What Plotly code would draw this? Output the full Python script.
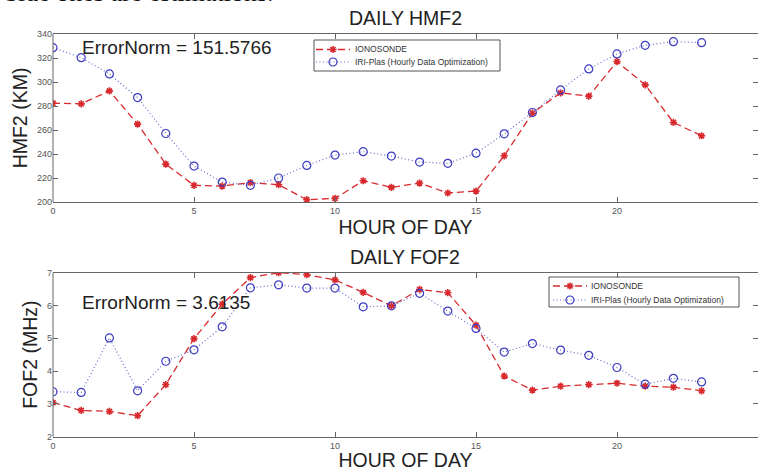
import plotly.graph_objects as go

hours = list(range(24))
hmf2_iono = [282.3, 281.8, 292.6, 264.9, 231.6, 213.9, 213.3, 216.1, 214.4, 201.9, 203.0, 217.7,
             212.2, 215.8, 207.5, 209.1, 238.5, 274.0, 291.0, 288.2, 317.0, 297.6, 266.3, 255.2]
hmf2_iri = [328.6, 320.3, 306.7, 287.0, 257.1, 229.9, 216.6, 213.9, 220.0, 230.5, 239.1, 241.9,
            238.3, 233.3, 232.2, 240.7, 256.8, 274.6, 293.4, 310.9, 323.4, 330.6, 333.6, 332.8]
fof2_iono = [3.04, 2.80, 2.77, 2.64, 3.59, 4.99, 6.04, 6.85, 7.00, 6.94, 6.78, 6.40,
             5.99, 6.49, 6.39, 5.40, 3.85, 3.42, 3.54, 3.59, 3.63, 3.54, 3.51, 3.40]
fof2_iri = [3.37, 3.35, 5.01, 3.40, 4.30, 4.65, 5.35, 6.54, 6.63, 6.53, 6.53, 5.96,
            5.99, 6.37, 5.83, 5.30, 4.58, 4.84, 4.64, 4.48, 4.11, 3.60, 3.78, 3.67]

x_ticks = [0, 5, 10, 15, 20, 25]
hmf2_ticks = [200, 220, 240, 260, 280, 300, 320, 340]
fof2_ticks = [2, 3, 4, 5, 6, 7]
series_names = ["IONOSONDE", "IRI-Plas (Hourly Data Optimization)"]
titles = ["DAILY HMF2", "DAILY FOF2"]
ytitles = ["HMF2 (KM)", "FOF2 (MHz)"]
norms = ["ErrorNorm = 151.5766", "ErrorNorm = 3.6135"]
caption = "blue ones are estimations."

W, H = 758, 471
RED = "#d82a2e"
BLUE = "#3c3cc0"
BLUE_LINE = "#6a6ad0"
FONT = "Liberation Sans"

def px(x):
    return x / W

def py(y):
    return 1 - y / H

red_line = dict(color=RED, dash="7px,4px", width=1.3)
red_marker = dict(symbol="asterisk-open", size=6, color=RED, line=dict(color=RED, width=1.6))
blue_line = dict(color=BLUE_LINE, dash="1px,2.5px", width=1.2)
blue_marker = dict(symbol="circle-open", size=8, color=BLUE, line=dict(color=BLUE, width=1.2))

fig = go.Figure()
for xa, ya, s1, s2 in [("x", "y", hmf2_iono, hmf2_iri), ("x2", "y2", fof2_iono, fof2_iri)]:
    fig.add_trace(go.Scatter(x=hours, y=s1, name=series_names[0], mode="lines+markers",
                             line=red_line, marker=red_marker, xaxis=xa, yaxis=ya, showlegend=False))
    fig.add_trace(go.Scatter(x=hours, y=s2, name=series_names[1], mode="lines+markers",
                             line=blue_line, marker=blue_marker, xaxis=xa, yaxis=ya, showlegend=False))

left, right = 53, 758
top1, bot1 = 34, 202
top2, bot2 = 272.7, 436.7
xr = [0, 25]

tickfont = dict(family=FONT, size=9, color="#555555")
title_font = dict(family=FONT, size=19.5, color="#222222")
common_x = dict(range=xr, tickvals=x_ticks, ticks="inside", ticklen=5, tickcolor="#666666",
                showline=True, linecolor="#666666", linewidth=1, mirror="ticks", automargin=False,
                showgrid=False, zeroline=False, tickfont=tickfont,
                title=dict(text="HOUR OF DAY", font=title_font, standoff=2))
common_y = dict(ticks="inside", ticklen=5, tickcolor="#666666", showline=False, mirror="ticks",
                automargin=False, showgrid=False, zeroline=False, tickfont=tickfont)

fig.update_layout(
    width=W, height=H, margin=dict(l=0, r=0, t=0, b=0, autoexpand=False),
    paper_bgcolor="white", plot_bgcolor="rgba(0,0,0,0)", showlegend=False,
    xaxis=dict(domain=[px(left), 1], anchor="y", **common_x),
    yaxis=dict(domain=[py(bot1), py(top1)], anchor="x", range=[200, 340], tickvals=hmf2_ticks,
               title=dict(text=ytitles[0], font=title_font, standoff=4), **common_y),
    xaxis2=dict(domain=[px(left), 1], anchor="y2", **common_x),
    yaxis2=dict(domain=[py(bot2), py(top2)], anchor="x2", range=[2, 7], tickvals=fof2_ticks,
                title=dict(text=ytitles[1], font=title_font, standoff=4), **common_y),
    xaxis3=dict(domain=[0, 1], range=[0, W], visible=False, anchor="y3", fixedrange=True),
    yaxis3=dict(domain=[0, 1], range=[H, 0], visible=False, anchor="x3", fixedrange=True),
)

# left axis lines
for t, b in [(top1, bot1), (top2, bot2)]:
    fig.add_shape(type="line", xref="paper", yref="paper", x0=px(left), x1=px(left), y0=py(b), y1=py(t),
                  line=dict(color="#666666", width=1))

ann = []
def add_text(text, x, y, font, xanchor="center"):
    ann.append(dict(text=text, x=px(x), y=py(y), xref="paper", yref="paper", showarrow=False,
                    xanchor=xanchor, yanchor="middle", font=font))

add_text(titles[0], 405, 18, title_font)
add_text(titles[1], 405, 257, title_font)
add_text(norms[0], 80, 48, dict(family=FONT, size=19, color="#222222"), "left")
add_text(norms[1], 80, 302, dict(family=FONT, size=19, color="#222222"), "left")
add_text(caption, 3, -8, dict(family="Liberation Serif", size=26, color="#111111"), "left")

# hand-built legends (MATLAB style: compact rows)
legends = [
    dict(box=(314, 40, 500, 71), rows=(49.5, 62), sx=(316, 350), tx=353),
    dict(box=(549, 277, 739, 307), rows=(286, 300), sx=(553, 587), tx=589),
]
for lg in legends:
    x0, y0, x1, y1 = lg["box"]
    fig.add_shape(type="rect", xref="paper", yref="paper", x0=px(x0), x1=px(x1), y0=py(y1), y1=py(y0),
                  line=dict(color="#555555", width=1), fillcolor="white", layer="below")
    for i, (ln, mk) in enumerate([(red_line, red_marker), (blue_line, blue_marker)]):
        ry = lg["rows"][i]
        sx0, sx1 = lg["sx"]
        fig.add_trace(go.Scatter(x=[sx0, sx1], y=[ry, ry], mode="lines", line=ln, xaxis="x3", yaxis="y3",
                                 showlegend=False, hoverinfo="skip"))
        fig.add_trace(go.Scatter(x=[(sx0 + sx1) / 2], y=[ry], mode="markers", marker=mk, xaxis="x3",
                                 yaxis="y3", showlegend=False, hoverinfo="skip"))
        add_text(series_names[i], lg["tx"], ry, dict(family=FONT, size=8.5, color="#333333"), "left")

fig.update_layout(annotations=ann)
fig.write_html("out.html")
